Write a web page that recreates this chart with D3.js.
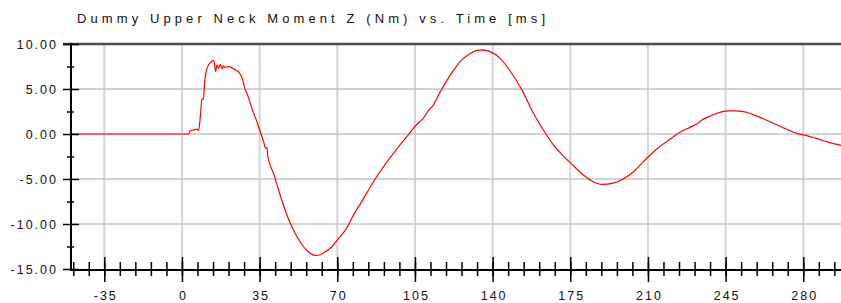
<!DOCTYPE html>
<html lang="en">
<head>
<meta charset="UTF-8">
<title>Dummy Upper Neck Moment Z</title>
<script src="https://d3js.org/d3.v7.min.js"></script>
<style>
  body { margin: 0; background: #fff; }
  text { font-family: Arial, "Liberation Sans", sans-serif; fill: #111; }
</style>
</head>
<body>
<svg id="chart" width="841" height="303"></svg>
<script>
// time (ms) and neck moment Z (Nm)
var timeMs = [-50, 3, 3.7, 5.5, 6.8, 7.5, 8.3, 9.0, 9.7, 10.3, 11.3, 12.7, 14.2, 14.6, 15.1,
  15.8, 16.5, 17.3, 18.0, 18.7, 19.5, 21.0, 22.5, 24.0, 26.0, 27.3, 28.3, 29.5, 31.5, 33.8,
  35.3, 36.8, 37.7, 38.3, 38.7, 41.3, 44.3, 47.3, 50.3, 53.3, 56.3, 59.3, 60.8, 63.8, 66.8,
  70.6, 74.3, 77.5, 80.3, 86.3, 92.4, 98.3, 102, 105.6, 108.8, 110.8, 111.9, 112.6, 116.4,
  120.9, 125.4, 129.9, 133, 135.2, 138.9, 143.4, 147.9, 153.2, 158.4, 162.9, 167.4, 171.9,
  175.7, 180.9, 185.4, 189.2, 194.4, 198.9, 203.5, 209.5, 215.5, 218.5, 221.5, 224.4, 229,
  232, 234.3, 238, 242.4, 246.9, 251.4, 255.9, 260.5, 266.5, 272.6, 277.1, 280.8, 286.1,
  292.1, 297.1];
var momentNm = [0, 0, 0.35, 0.45, 0.55, 0.4, 2.0, 3.85, 3.9, 6.0, 7.3, 7.9, 8.15, 8.0, 6.95,
  7.65, 7.3, 7.75, 7.25, 7.6, 7.4, 7.5, 7.35, 7.15, 6.75, 6.1, 5.1, 4.4, 2.85, 1.35,
  0.25, -0.85, -1.6, -1.5, -2.5, -4.4, -6.8, -9.0, -10.7, -12.0, -12.95, -13.45, -13.5, -13.2, -12.7,
  -11.6, -10.45, -8.9, -7.8, -5.3, -3.1, -1.2, -0.1, 1.0, 1.75, 2.5, 2.85, 3.0, 4.7,
  6.55, 8.05, 8.95, 9.3, 9.35, 9.15, 8.4, 7.0, 4.9, 2.3, 0.45, -1.2, -2.45,
  -3.35, -4.55, -5.3, -5.6, -5.45, -5.0, -4.2, -2.7, -1.35, -0.85, -0.3, 0.2, 0.74,
  1.11, 1.55, 2.0, 2.4, 2.56, 2.55, 2.3, 1.85, 1.19, 0.52, 0.07, -0.13, -0.52,
  -0.96, -1.26];

var xMajor = [-35, 0, 35, 70, 105, 140, 175, 210, 245, 280];
var xMinor = d3.range(-49, 297, 7);
var yMajor = [10, 5, 0, -5, -10, -15];
var yMinor = [7.5, 2.5, -2.5, -7.5, -12.5];
var titleText = "Dummy Upper Neck Moment Z (Nm) vs. Time [ms]";

var svg = d3.select("#chart");

var x = d3.scaleLinear().domain([-50, 297]).range([71, 841]);
var y = d3.scaleLinear().domain([-15, 10]).range([269, 44]);

// plain hyphen minus like the original, not d3's unicode minus
var fmtY = d => d.toFixed(2);
var fmtX = d => String(d);

// title
svg.append("text")
  .attr("x", 77).attr("y", 23)
  .attr("font-size", 13)
  .attr("textLength", 468)
  .attr("lengthAdjust", "spacing")
  .text(titleText);

// grid
svg.append("g").selectAll("line")
  .data(xMajor).join("line")
  .attr("x1", d => x(d)).attr("x2", d => x(d))
  .attr("y1", y(10)).attr("y2", y(-15))
  .attr("stroke", "#d4d4d4").attr("stroke-width", 2);

svg.append("g").selectAll("line")
  .data(yMajor.filter(d => d > -15 && d < 10)).join("line")
  .attr("x1", x(-50)).attr("x2", 841)
  .attr("y1", d => y(d)).attr("y2", d => y(d))
  .attr("stroke", "#c4c4c4").attr("stroke-width", 1.5);

// top border
svg.append("line")
  .attr("x1", 63).attr("x2", 841)
  .attr("y1", y(10)).attr("y2", y(10))
  .attr("stroke", "#4d4d4d").attr("stroke-width", 2.5);

// data line
var line = d3.line()
  .x((d, i) => x(timeMs[i]))
  .y(d => y(d))
  .curve(d3.curveMonotoneX);

svg.append("path")
  .datum(momentNm)
  .attr("d", line)
  .attr("fill", "none")
  .attr("stroke", "#ff0000")
  .attr("stroke-width", 1.2);

// x axis: major ticks with labels
var xAxisG = svg.append("g")
  .attr("transform", "translate(0," + y(-15) + ")")
  .call(d3.axisBottom(x).tickValues(xMajor).tickSize(13).tickFormat(fmtX));
xAxisG.select(".domain").remove();
xAxisG.selectAll(".tick line").attr("y1", -12).attr("stroke", "#000").attr("stroke-width", 1.5);
xAxisG.selectAll(".tick text")
  .attr("y", 31).attr("dy", 0).attr("dx", 1)
  .attr("font-size", 12.5).attr("letter-spacing", "2px")
  .attr("font-family", "Arial, 'Liberation Sans', sans-serif")
  .attr("fill", "#111");

// x axis: minor ticks
var xMinorG = svg.append("g")
  .attr("transform", "translate(0," + y(-15) + ")")
  .call(d3.axisBottom(x).tickValues(xMinor).tickSize(7).tickFormat(""));
xMinorG.select(".domain").remove();
xMinorG.selectAll(".tick line").attr("y1", -7).attr("stroke", "#000").attr("stroke-width", 1.5);

svg.append("line")
  .attr("x1", x(-50) - 1).attr("x2", 841)
  .attr("y1", y(-15) + 1).attr("y2", y(-15) + 1)
  .attr("stroke", "#000").attr("stroke-width", 2);

// y axis: major ticks with labels
var yAxisG = svg.append("g")
  .attr("transform", "translate(" + x(-50) + ",0)")
  .call(d3.axisLeft(y).tickValues(yMajor).tickSize(8).tickFormat(fmtY));
yAxisG.select(".domain").remove();
yAxisG.selectAll(".tick line").attr("x1", 8).attr("stroke", "#000").attr("stroke-width", 1.5);
yAxisG.selectAll(".tick text")
  .attr("x", -13).attr("dy", "0.36em")
  .attr("font-size", 12.5).attr("letter-spacing", "2px")
  .attr("font-family", "Arial, 'Liberation Sans', sans-serif")
  .attr("fill", "#111");

// y axis: minor ticks
var yMinorG = svg.append("g")
  .attr("transform", "translate(" + x(-50) + ",0)")
  .call(d3.axisLeft(y).tickValues(yMinor).tickSize(4).tickFormat(""));
yMinorG.select(".domain").remove();
yMinorG.selectAll(".tick line").attr("x1", 3).attr("stroke", "#000").attr("stroke-width", 1.5);

svg.append("line")
  .attr("x1", x(-50)).attr("x2", x(-50))
  .attr("y1", y(10) - 1).attr("y2", y(-15) + 2)
  .attr("stroke", "#000").attr("stroke-width", 2);
</script>
</body>
</html>
